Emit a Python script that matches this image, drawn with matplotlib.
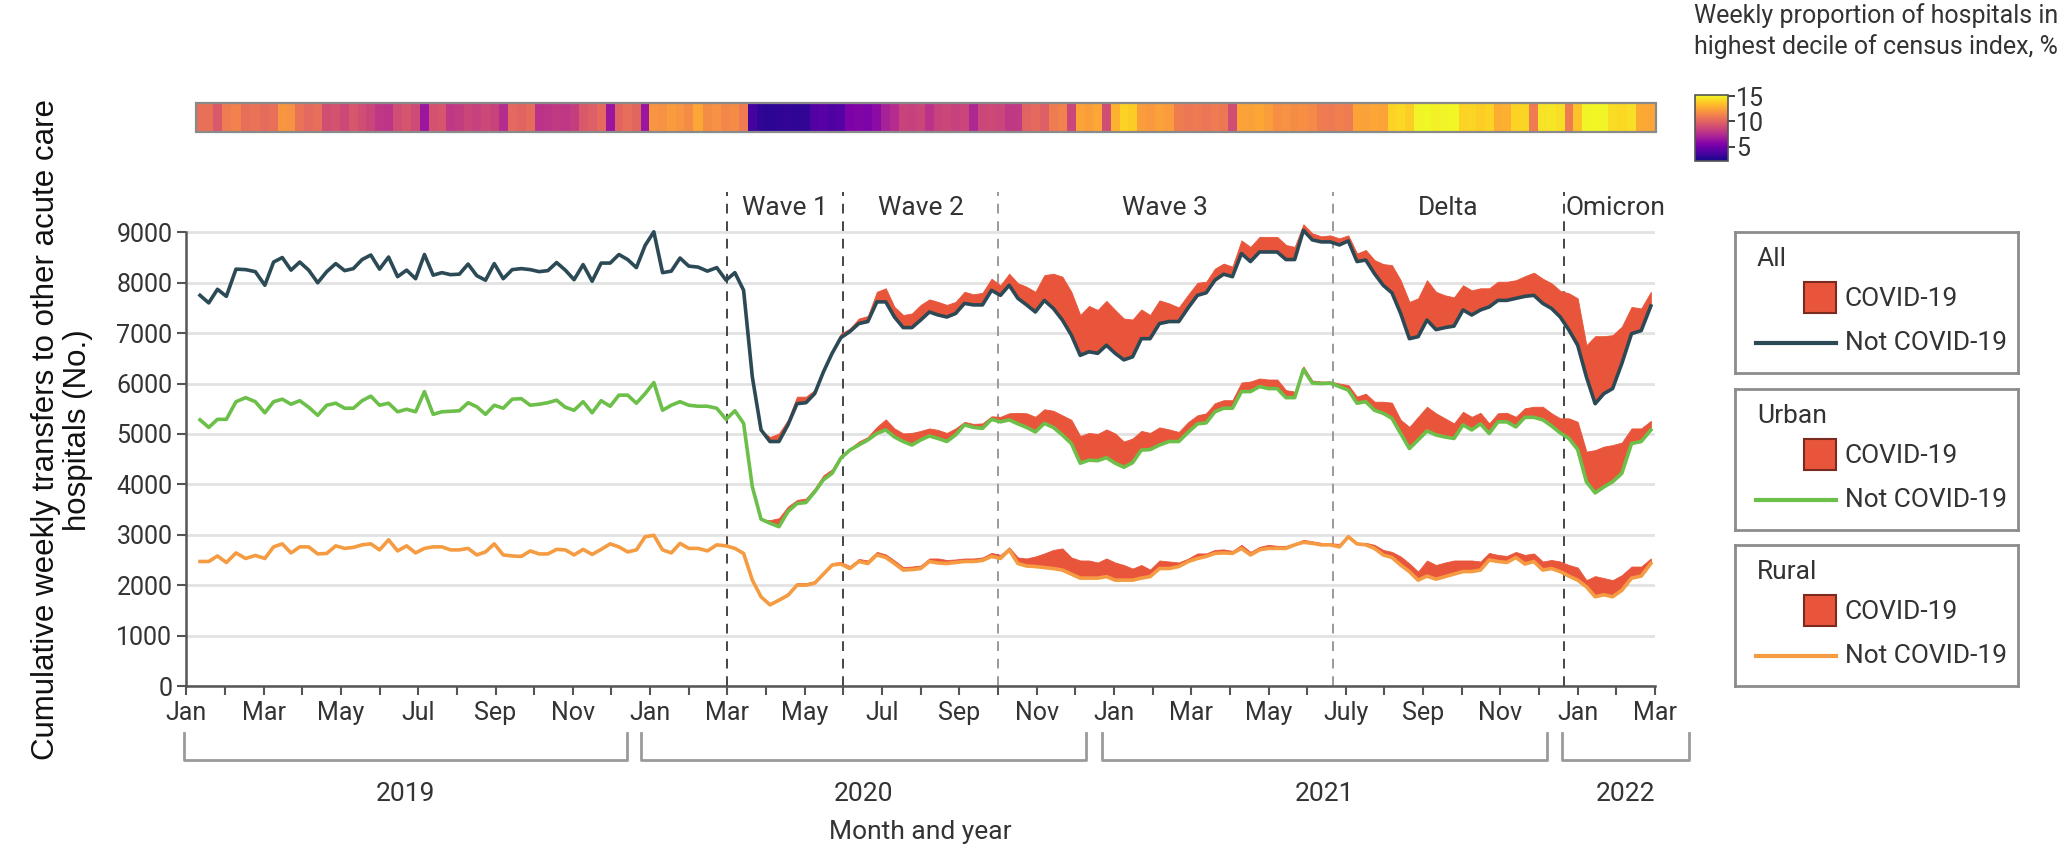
import numpy as np
import pandas as pd
import matplotlib
matplotlib.use("Agg")
import matplotlib.pyplot as plt
from matplotlib.patches import Rectangle
from matplotlib.colors import Normalize
from matplotlib.transforms import blended_transform_factory

plt.rcParams['font.family'] = ['Roboto', 'DejaVu Sans']
TXT = '#333333'

# weekly transfers, first week 2019-01-12
week_start = '2019-01-12'

all_noncovid = [
    7750, 7600, 7870, 7730, 8270, 8260, 8220, 7950, 8410, 8500,
    8250, 8410, 8250, 8000, 8220, 8380, 8240, 8280, 8460, 8550,
    8270, 8510, 8120, 8250, 8080, 8560, 8150, 8200, 8160, 8170,
    8370, 8140, 8050, 8380, 8080, 8260, 8280, 8260, 8220, 8240,
    8400, 8250, 8060, 8360, 8030, 8390, 8390, 8560, 8460, 8300,
    8740, 9010, 8200, 8230, 8490, 8330, 8310, 8230, 8300, 8050,
    8200, 7850, 6130, 5080, 4850, 4850, 5180, 5600, 5620, 5800,
    6230, 6600, 6910, 7030, 7190, 7230, 7620, 7620, 7320, 7110,
    7110, 7260, 7420, 7360, 7320, 7390, 7590, 7560, 7560, 7850,
    7750, 7950, 7690, 7560, 7420, 7650, 7490, 7260, 6960, 6560,
    6630, 6600, 6760, 6600, 6470, 6530, 6890, 6890, 7190, 7230,
    7230, 7510, 7750, 7800, 8050, 8170, 8120, 8580, 8420, 8610,
    8610, 8610, 8460, 8460, 9040, 8850, 8810, 8810, 8750, 8830,
    8420, 8450, 8180, 7950, 7800, 7390, 6890, 6930, 7260, 7070,
    7110, 7140, 7460, 7360, 7460, 7520, 7650, 7650, 7690, 7730,
    7750, 7590, 7490, 7320, 7060, 6760, 6130, 5600, 5800, 5900,
    6400, 6990, 7050, 7540,
]
urban_noncovid = [
    5280, 5130, 5290, 5290, 5640, 5720, 5640, 5420, 5640, 5690,
    5590, 5660, 5530, 5370, 5570, 5610, 5510, 5510, 5660, 5750,
    5570, 5610, 5440, 5490, 5440, 5840, 5390, 5440, 5450, 5460,
    5620, 5540, 5390, 5570, 5510, 5690, 5700, 5570, 5590, 5620,
    5670, 5530, 5470, 5640, 5420, 5660, 5550, 5770, 5770, 5610,
    5800, 6020, 5470, 5570, 5640, 5570, 5550, 5550, 5510, 5290,
    5460, 5210, 3950, 3310, 3230, 3160, 3460, 3620, 3640, 3850,
    4090, 4220, 4520, 4680, 4780, 4880, 5010, 5080, 4940, 4850,
    4780, 4880, 4960, 4910, 4850, 4980, 5180, 5130, 5110, 5290,
    5240, 5280, 5200, 5130, 5040, 5210, 5130, 4980, 4810, 4420,
    4480, 4470, 4530, 4420, 4340, 4430, 4680, 4690, 4780, 4850,
    4850, 5040, 5200, 5220, 5440, 5510, 5510, 5840, 5840, 5940,
    5900, 5900, 5720, 5720, 6280, 6010, 6000, 6010, 5940, 5870,
    5610, 5640, 5470, 5410, 5310, 5010, 4710, 4880, 5060, 4980,
    4940, 4910, 5180, 5080, 5200, 5010, 5240, 5240, 5140, 5330,
    5330, 5280, 5160, 5020, 4910, 4690, 4050, 3830, 3950, 4050,
    4220, 4810, 4850, 5080,
]
rural_noncovid = [
    2470, 2470, 2580, 2450, 2640, 2530, 2590, 2530, 2760, 2820,
    2640, 2760, 2760, 2620, 2630, 2780, 2730, 2750, 2800, 2820,
    2700, 2900, 2680, 2780, 2640, 2730, 2760, 2760, 2700, 2700,
    2730, 2600, 2660, 2820, 2600, 2580, 2570, 2680, 2620, 2620,
    2710, 2700, 2600, 2710, 2610, 2710, 2820, 2760, 2660, 2700,
    2960, 2990, 2700, 2640, 2830, 2730, 2730, 2680, 2800, 2780,
    2730, 2630, 2100, 1770, 1610, 1700, 1800, 2000, 2000, 2040,
    2220, 2400, 2420, 2330, 2470, 2430, 2600, 2550, 2430, 2300,
    2310, 2330, 2470, 2440, 2430, 2450, 2470, 2470, 2490, 2570,
    2530, 2700, 2430, 2380, 2370, 2350, 2330, 2300, 2220, 2140,
    2140, 2140, 2170, 2100, 2100, 2100, 2140, 2170, 2330, 2330,
    2370, 2470, 2530, 2570, 2630, 2640, 2630, 2730, 2600, 2700,
    2730, 2730, 2730, 2800, 2850, 2830, 2800, 2800, 2760, 2960,
    2820, 2800, 2730, 2600, 2550, 2400, 2270, 2100, 2180, 2120,
    2170, 2220, 2270, 2270, 2300, 2500, 2470, 2450, 2550, 2420,
    2470, 2300, 2330, 2270, 2180, 2100, 1970, 1770, 1810, 1770,
    1900, 2140, 2180, 2430,
]

# all transfers (COVID-19 + not COVID-19), from week 62 (March 2020) onward
pandemic_from = 62
all_total = [
    6130, 5080,
    4940, 5010, 5280, 5740, 5740, 5870,
    6300, 6660, 6990, 7090, 7290, 7340, 7820, 7890, 7520, 7360,
    7390, 7560, 7670, 7620, 7560, 7620, 7820, 7770, 7800, 8080,
    7950, 8180, 7990, 7920, 7820, 8150, 8180, 8120, 7820, 7360,
    7540, 7460, 7640, 7460, 7290, 7270, 7470, 7360, 7650, 7590,
    7510, 7770, 8000, 8020, 8280, 8380, 8320, 8840, 8710, 8910,
    8910, 8910, 8750, 8710, 9160, 8980, 8920, 8940, 8880, 8940,
    8580, 8650, 8450, 8370, 8350, 8050, 7620, 7690, 8050, 7820,
    7750, 7710, 7950, 7850, 7890, 7890, 8020, 8020, 8050, 8130,
    8200, 8080, 7990, 7840, 7790, 7690, 6760, 6940, 6940, 6960,
    7130, 7520, 7490, 7820,
]
urban_total = [
    3950, 3310,
    3290, 3330, 3560, 3690, 3720, 3920,
    4180, 4300, 4580, 4710, 4850, 4940, 5140, 5290, 5110, 5010,
    5020, 5060, 5110, 5080, 5020, 5110, 5240, 5200, 5210, 5350,
    5340, 5410, 5420, 5410, 5340, 5490, 5460, 5370, 5280, 4960,
    5020, 5000, 5090, 5010, 4850, 4910, 5060, 5020, 5130, 5090,
    5040, 5240, 5370, 5410, 5610, 5670, 5670, 6020, 6040, 6100,
    6080, 6080, 5870, 5840, 6340, 6060, 6040, 6040, 6000, 5970,
    5740, 5800, 5640, 5640, 5620, 5280, 5140, 5340, 5540, 5410,
    5310, 5210, 5440, 5340, 5420, 5210, 5410, 5420, 5340, 5510,
    5540, 5540, 5410, 5310, 5310, 5240, 4650, 4680, 4750, 4780,
    4830, 5110, 5110, 5260,
]
rural_total = [
    2100, 1770,
    1640, 1740, 1840, 2040, 2040, 2080,
    2260, 2440, 2460, 2380, 2520, 2490, 2660, 2610, 2490, 2360,
    2370, 2390, 2530, 2530, 2500, 2510, 2530, 2530, 2550, 2640,
    2600, 2750, 2550, 2530, 2570, 2630, 2700, 2730, 2550, 2490,
    2490, 2450, 2530, 2450, 2400, 2330, 2400, 2310, 2490, 2470,
    2450, 2530, 2630, 2630, 2700, 2710, 2680, 2800, 2660, 2760,
    2800, 2780, 2780, 2830, 2900, 2870, 2840, 2830, 2820, 2990,
    2840, 2840, 2800, 2700, 2660, 2570, 2430, 2270, 2490, 2400,
    2450, 2490, 2490, 2490, 2470, 2640, 2600, 2580, 2660, 2600,
    2630, 2470, 2500, 2470, 2400, 2350, 2100, 2180, 2140, 2100,
    2200, 2370, 2370, 2530,
]

# weekly % of hospitals in the highest census decile
high_census_pct = [
    10.5, 10.5, 9.5, 11.0, 11.2, 10.4, 10.6, 10.3, 10.5, 12.0,
    11.8, 10.6, 10.2, 10.4, 9.0, 9.2, 8.8, 9.4, 9.0, 8.6,
    8.0, 7.9, 9.0, 9.3, 8.9, 6.5, 9.2, 9.4, 8.0, 8.2,
    8.6, 8.4, 8.8, 8.5, 7.5, 10.2, 10.0, 10.3, 7.8, 7.9,
    8.1, 8.0, 8.3, 9.5, 9.8, 10.2, 6.5, 10.0, 10.4, 10.1,
    6.5, 12.0, 11.8, 12.2, 12.0, 11.6, 12.6, 11.6, 11.8, 11.4,
    11.6, 11.0, 3.6, 3.0, 2.9, 3.0, 3.1, 3.0, 3.1, 4.0,
    4.2, 3.9, 4.1, 5.4, 5.6, 5.5, 6.0, 7.0, 7.5, 8.5,
    8.4, 8.6, 7.8, 8.5, 8.7, 8.4, 8.6, 7.3, 8.7, 8.8,
    8.6, 8.0, 8.1, 10.0, 10.2, 9.8, 11.0, 11.2, 8.7, 12.5,
    12.3, 12.6, 9.0, 13.0, 14.0, 13.8, 12.3, 12.1, 12.4, 12.2,
    11.0, 10.8, 10.9, 10.7, 11.0, 10.8, 9.0, 12.5, 12.4, 12.6,
    12.3, 11.7, 11.8, 11.6, 11.7, 11.5, 11.0, 10.9, 11.1, 11.0,
    12.5, 12.4, 12.6, 12.5, 14.0, 14.2, 13.9, 15.0, 15.1, 14.9,
    15.0, 15.1, 14.0, 14.1, 13.9, 14.0, 12.8, 12.9, 14.0, 14.1,
    11.0, 14.5, 14.6, 14.4, 11.0, 13.5, 15.0, 15.1, 15.0, 14.3,
    14.2, 14.4, 12.7, 12.6,
]

wave_starts = ['2020-03-01', '2020-06-01', '2020-10-01', '2021-06-21', '2021-12-21']
wave_names = ['Wave 1', 'Wave 2', 'Wave 3', 'Delta', 'Omicron']
wave_line_colors = ['#454545', '#454545', '#9a9a9a', '#9a9a9a', '#454545']
xtick_labels = (['Jan', 'Mar', 'May', 'Jul', 'Sep', 'Nov'] * 2
                + ['Jan', 'Mar', 'May', 'July', 'Sep', 'Nov'] + ['Jan', 'Mar'])
years = [2019, 2020, 2021, 2022]

ALL_C = '#2b4a56'
URB_C = '#6cc04a'
RUR_C = '#f59b42'
COVID_C = '#e9553b'


def month_pos(d):
    """Position on an axis where every month has the same width (Jan 2019 = 0)."""
    d = pd.Timestamp(d)
    return (d.year - 2019) * 12 + d.month - 1 + (d.day - 1) / d.days_in_month


weeks = pd.date_range(week_start, periods=len(all_noncovid), freq='7D')
x = np.array([month_pos(d) for d in weeks])
xp = x[pandemic_from:]

W, H = 2061, 852
fig = plt.figure(figsize=(W / 100, H / 100), dpi=100)


def px_box(x0, y0, x1, y1):
    return [x0 / W, 1 - y1 / H, (x1 - x0) / W, (y1 - y0) / H]


# ---- main panel
ax = fig.add_axes(px_box(186.3, 192, 1655, 686))
ax.set_xlim(0, 38)
ax.set_ylim(0, 9800)

series = [(all_noncovid, all_total, ALL_C),
          (urban_noncovid, urban_total, URB_C),
          (rural_noncovid, rural_total, RUR_C)]
for nonc, tot, col in series:
    nonc = np.asarray(nonc, float)
    ax.fill_between(xp, nonc[pandemic_from:], tot, color=COVID_C, lw=0.6,
                    edgecolor=COVID_C, zorder=2)
    ax.plot(x, nonc, color=col, lw=2.6, zorder=3, solid_joinstyle='round')

wave_x = [month_pos(d) for d in wave_starts]
for wx, wc in zip(wave_x, wave_line_colors):
    ax.axvline(wx, color=wc, lw=1.4, ls=(0, (5, 4)), zorder=1)
bounds = wave_x + [38.3]
for k, name in enumerate(wave_names):
    ax.text((bounds[k] + bounds[k + 1]) / 2, 9480, name, ha='center', va='center',
            size=19, color=TXT)

ax.set_yticks(range(0, 9001, 1000))
ax.grid(axis='y', color='#e2e2e2', lw=2)
ax.set_axisbelow(True)
ax.set_xticks(range(0, 39, 2), labels=xtick_labels)
ax.set_xticks(range(0, 39), minor=True)
for s in ['top', 'right']:
    ax.spines[s].set_visible(False)
ax.spines['left'].set_bounds(0, 9000)
for s in ['left', 'bottom']:
    ax.spines[s].set_color('#555555')
    ax.spines[s].set_linewidth(1.8)
ax.tick_params(which='both', direction='out', length=6.5, width=1.5, color='#555555')
ax.tick_params(axis='y', labelsize=18, labelcolor=TXT, pad=3.5)
ax.tick_params(axis='x', labelsize=18, labelcolor=TXT, pad=4)

# year brackets under the month labels
tr = blended_transform_factory(ax.transData, fig.transFigure)
year_spans = [(-0.06, 11.4), (11.77, 23.29), (23.68, 35.2), (35.6, 38.87)]
y_top, y_bot = 1 - 733 / H, 1 - 760 / H
for yr, (a, b) in zip(years, year_spans):
    ax.plot([a, a, b, b], [y_top, y_bot, y_bot, y_top], transform=tr, clip_on=False,
            color='#9a9a9a', lw=2)
    ax.text((a + b) / 2, 1 - 794 / H, str(yr), transform=tr, ha='center', va='center',
            size=19, color=TXT)
ax.text(19, 1 - 832 / H, 'Month and year', transform=tr, ha='center', va='center',
        size=19, color=TXT)

fig.text(62 / W, 1 - 430 / H,
         'Cumulative weekly transfers to other acute care\nhospitals (No.)',
         rotation=90, ha='center', va='center', multialignment='center',
         family=['Liberation Sans', 'DejaVu Sans'], size=22.5, linespacing=1.05,
         color='#111111')

# ---- census heat strip
hx = fig.add_axes(px_box(186.3, 102.5, 1655, 131.5))
hx.set_xlim(0, 38)
hx.set_ylim(0, 1)
mid = (x[1:] + x[:-1]) / 2
edges = np.concatenate([[x[0] - (mid[0] - x[0])], mid, [x[-1] + (x[-1] - mid[-1])]])
norm = Normalize(2.2, 15.2)
mesh = hx.pcolormesh(edges, [0, 1], np.asarray(high_census_pct)[None, :],
                     cmap='plasma', norm=norm, shading='flat')
hx.add_patch(Rectangle((edges[0], 0), edges[-1] - edges[0], 1, fill=False,
                       ec='#8a8a8a', lw=1.6, clip_on=False))
hx.axis('off')

cax = fig.add_axes(px_box(1695, 95, 1728, 161))
cb = fig.colorbar(mesh, cax=cax, ticks=[5, 10, 15])
cb.outline.set_edgecolor('#555555')
cb.outline.set_linewidth(1.2)
cax.tick_params(labelsize=18, length=5, width=1.3, color='#333333', pad=1, labelcolor=TXT)
fig.text(1694 / W, 1 - 3 / H,
         'Weekly proportion of hospitals in\nhighest decile of census index, %',
         ha='left', va='top', size=18, linespacing=1.3, color=TXT)

# ---- legend boxes
legend_boxes = [('All', ALL_C, 231.7), ('Urban', URB_C, 389), ('Rural', RUR_C, 545)]
for title, col, top in legend_boxes:
    bx = fig.add_axes(px_box(1735, top, 2018, top + 141))
    bx.set_xlim(1735, 2018)
    bx.set_ylim(top + 141, top)
    bx.set_xticks([])
    bx.set_yticks([])
    for s in bx.spines.values():
        s.set_color('#8c8c8c')
        s.set_linewidth(2)
    bx.text(1757, top + 27, title, ha='left', va='center', size=19, color=TXT)
    bx.add_patch(Rectangle((1804, top + 50), 32, 31, fc=COVID_C, ec='#7a2a1e', lw=1.5))
    bx.text(1845, top + 67, 'COVID-19', ha='left', va='center', size=19, color=TXT)
    bx.plot([1756, 1836], [top + 111, top + 111], color=col, lw=3)
    bx.text(1845, top + 111, 'Not COVID-19', ha='left', va='center', size=19, color=TXT)

fig.savefig('out.png', dpi=100)
